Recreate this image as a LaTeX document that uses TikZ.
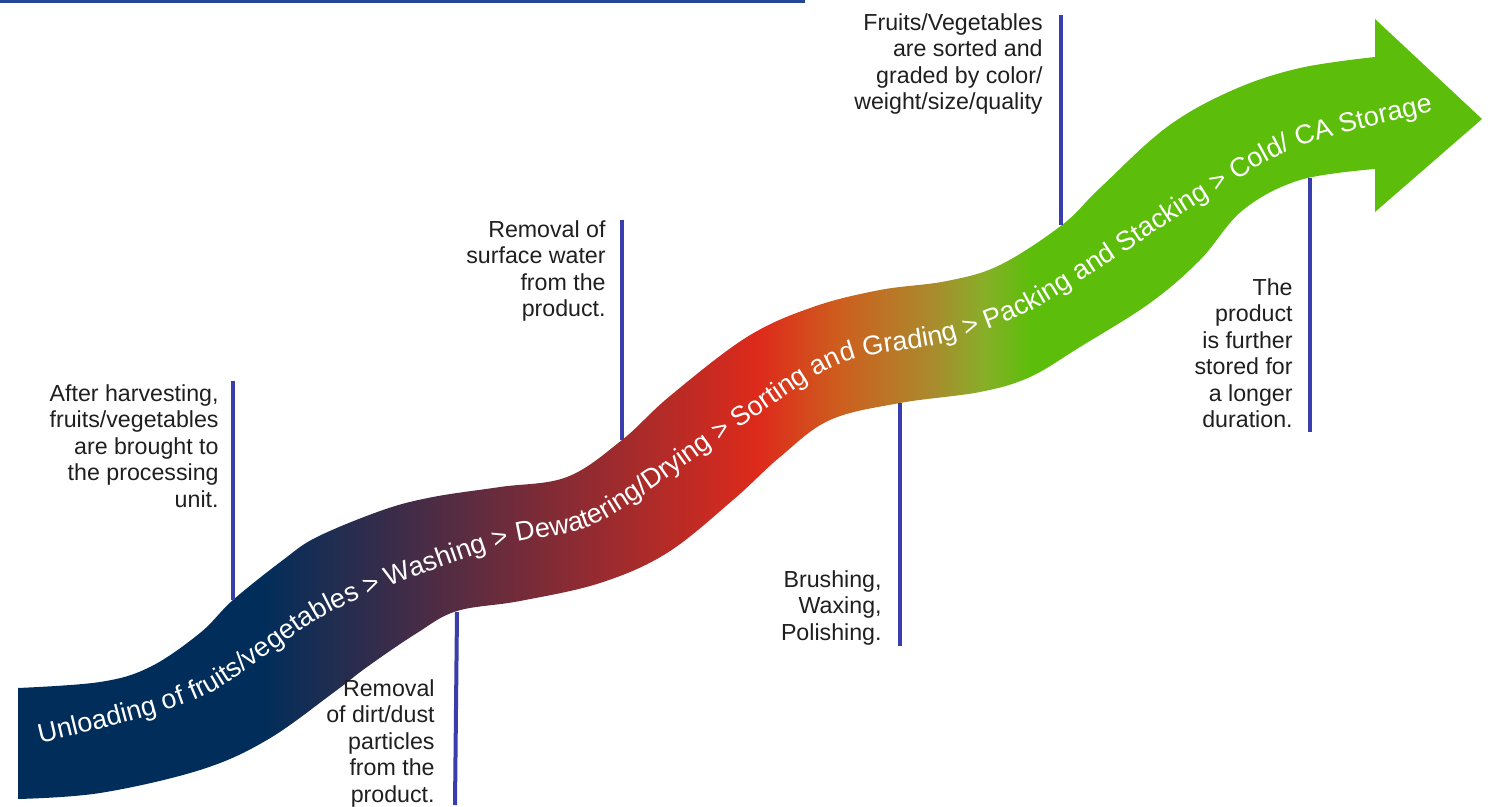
\documentclass[tikz,border=0pt]{standalone}
\usepackage{fontspec}
\setmainfont{Liberation Sans}
\usetikzlibrary{decorations.text}

\definecolor{flownavy}{RGB}{0,45,90}
\definecolor{flowred}{RGB}{222,42,27}
\definecolor{floworange}{RGB}{205,95,30}
\definecolor{flowolive}{RGB}{170,138,45}
\definecolor{flowlime}{RGB}{135,175,40}
\definecolor{flowgreen}{RGB}{92,190,10}
\definecolor{markblue}{RGB}{58,62,170}
\definecolor{ruleblue}{RGB}{35,70,150}
\pgfdeclarehorizontalshading{flowshade}{100bp}{color(0bp)=(flownavy); color(33.3bp)=(flownavy); color(50.3bp)=(flowred); color(53.1bp)=(floworange); color(56.2bp)=(flowolive); color(58.0bp)=(flowlime); color(59.6bp)=(flowgreen); color(100bp)=(flowgreen)}

\begin{document}
\begin{tikzpicture}[x=0.5pt,y=-0.5pt,
    vline/.style={draw=markblue, line width=2pt},
    note/.style={align=right, anchor=base east, inner sep=0pt,
      font=\fontsize{11.6}{13.25}\selectfont, text=black!88}]
  \useasboundingbox (0,0) rectangle (1493,807);

  % rule at the top
  \coordinate (rulea) at (0,1.5);
  \coordinate (ruleb) at (805,1.5);
  \draw[ruleblue, line width=1.5pt] (rulea) -- (ruleb);

  % the wavy band with its head
  \shade[shading=flowshade]
    plot[smooth, tension=0.6] coordinates {(18,688) (100,682) (150,667) (200,633) (233,600) (283,560) (317,537) (383,510) (433,497) (500,487) (567,477) (622,440) (670,396) (747,337) (813,307) (880,290) (947,281) (1000,265) (1062,225) (1100,188) (1167,127) (1233,90) (1300,68) (1375,57)}
    -- (1375,19) -- (1482,119) -- (1375,212)
    -- plot[smooth, tension=0.6] coordinates {(1375,169) (1300,180) (1243,210) (1200,260) (1150,303) (1080,347) (1030,377) (980,392) (900,403) (830,420) (780,457) (733,500) (667,553) (600,583) (520,601) (457,611) (417,633) (367,667) (333,693) (267,740) (200,770) (100,793) (18,799)}
    -- cycle;

  % steps written along the band
  \path[decorate, decoration={text along path, text color=white,
      text={|\fontsize{13.5}{16}\selectfont|Unloading of fruits/vegetables > Washing > Dewatering/Drying > Sorting and Grading > Packing and Stacking > Cold/ CA Storage}}]
    plot[smooth, tension=0.5] coordinates {(40,743) (200,698) (333,611) (500,547) (600,522) (733,432) (840,364) (947,342) (1040,306) (1200,203) (1300,146) (1440,110)};

  % markers
  \coordinate (m1a) at (233,381);  \coordinate (m1b) at (233,600);
  \coordinate (m2a) at (457,612);  \coordinate (m2b) at (455,805);
  \coordinate (m3a) at (622,220);  \coordinate (m3b) at (622,440);
  \coordinate (m4a) at (900,403);  \coordinate (m4b) at (900,646);
  \coordinate (m5a) at (1061,15);  \coordinate (m5b) at (1061,225);
  \coordinate (m6a) at (1310,178); \coordinate (m6b) at (1310,432);
  \draw[vline] (m1a) -- (m1b);
  \draw[vline] (m2a) -- (m2b);
  \draw[vline] (m3a) -- (m3b);
  \draw[vline] (m4a) -- (m4b);
  \draw[vline] (m5a) -- (m5b);
  \draw[vline] (m6a) -- (m6b);

  % notes (placed by the baseline of their last line)
  \node[note] (harvest) at (219,507) {After harvesting,\\fruits/vegetables\\are brought to\\the processing\\unit.};
  \node[note] (dirt) at (435,802) {Removal\\of dirt/dust\\particles\\from the\\product.};
  \node[note] (water) at (606,317) {Removal of\\surface water\\from the\\product.};
  \node[note] (brush) at (882,640) {Brushing,\\Waxing,\\Polishing.};
  \node[note] (grade) at (1043,110) {Fruits/Vegetables\\are sorted and\\graded by color/\\weight/size/quality};
  \node[note] (store) at (1293,428) {The\\product\\is further\\stored for\\a longer\\duration.};
\end{tikzpicture}
\end{document}
